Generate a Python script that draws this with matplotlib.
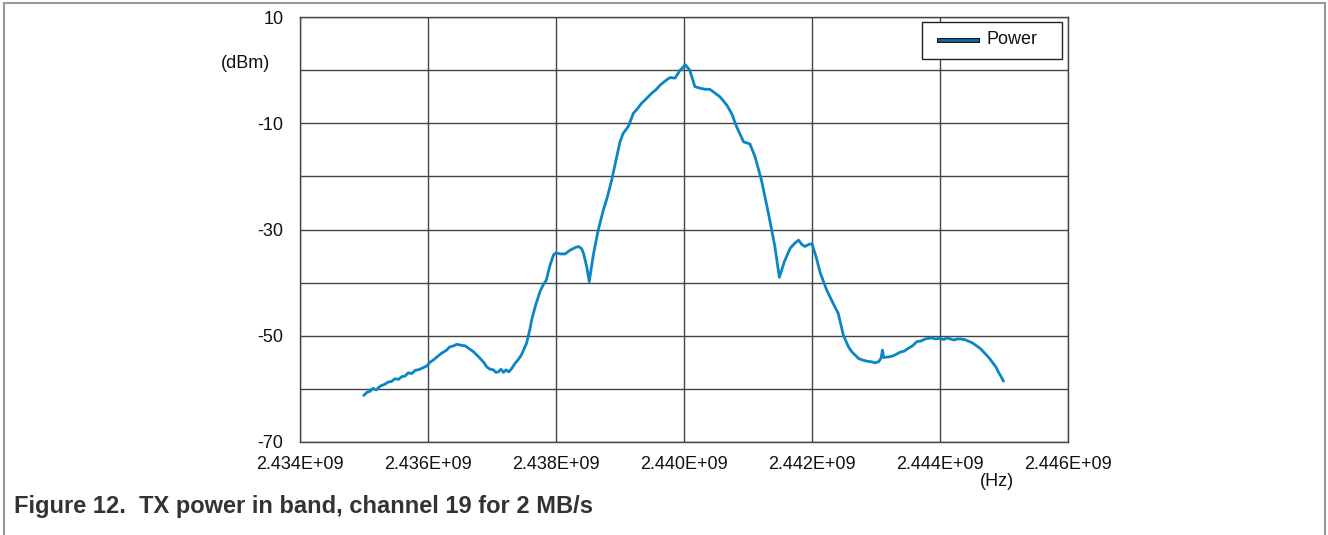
import matplotlib
matplotlib.use("Agg")
import matplotlib.pyplot as plt
from matplotlib.lines import Line2D
from matplotlib.patches import Rectangle
import numpy as np

plt.rcParams['font.family'] = ['Liberation Sans', 'DejaVu Sans']

# Spectrum trace: offset from 2.434 GHz (MHz) and measured power (dBm)
offset_mhz = [
    1.00, 1.05, 1.09, 1.14, 1.19, 1.25, 1.29, 1.33, 1.38, 1.43, 1.48, 1.54,
    1.59, 1.64, 1.69, 1.75, 1.80, 1.85, 1.91, 1.98, 2.03, 2.08, 2.15, 2.21,
    2.28, 2.34, 2.40, 2.45, 2.52, 2.58, 2.64, 2.71, 2.76, 2.81, 2.87, 2.92,
    2.97, 3.02, 3.06, 3.10, 3.14, 3.18, 3.22, 3.26, 3.30, 3.36, 3.41, 3.46,
    3.50, 3.54, 3.59, 3.62, 3.68, 3.75, 3.80, 3.85, 3.90, 3.96, 4.00, 4.07,
    4.14, 4.22, 4.30, 4.35, 4.40, 4.43, 4.48, 4.52, 4.58, 4.66, 4.74, 4.80,
    4.87, 4.95, 5.00, 5.05, 5.13, 5.21, 5.27, 5.34, 5.41, 5.49, 5.56, 5.63,
    5.70, 5.78, 5.86, 5.94, 6.02, 6.09, 6.17, 6.25, 6.33, 6.40, 6.46, 6.56,
    6.67, 6.75, 6.82, 6.93, 7.03, 7.11, 7.21, 7.32, 7.42, 7.49, 7.57, 7.66,
    7.73, 7.79, 7.84, 7.89, 7.95, 8.00, 8.06, 8.13, 8.23, 8.33, 8.41, 8.49,
    8.57, 8.62, 8.67, 8.73, 8.80, 8.86, 8.93, 8.98, 9.04, 9.08, 9.10, 9.12,
    9.18, 9.24, 9.30, 9.375, 9.44, 9.50, 9.57, 9.64, 9.70, 9.77, 9.82, 9.87,
    9.93, 10.00, 10.06, 10.11, 10.16, 10.22, 10.27, 10.31, 10.38, 10.44,
    10.50, 10.57, 10.63, 10.70, 10.77, 10.83, 10.88, 10.91, 10.95, 10.99,
]
power_dbm = [
    -61.2, -60.6, -60.5, -59.9, -60.2, -59.5, -59.3, -59.1, -58.7, -58.6,
    -58.1, -58.2, -57.7, -57.6, -57.0, -57.1, -56.5, -56.4, -56.1, -55.7,
    -55.0, -54.6, -53.9, -53.3, -52.8, -52.1, -51.9, -51.6, -51.8, -51.9,
    -52.4, -53.0, -53.6, -54.2, -55.0, -55.9, -56.3, -56.4, -56.9, -56.8,
    -56.3, -56.9, -56.4, -56.8, -56.3, -55.2, -54.5, -53.6, -52.5, -51.4,
    -48.9, -47.0, -44.3, -41.7, -40.4, -39.5, -37.0, -34.8, -34.4, -34.6,
    -34.6, -33.9, -33.4, -33.2, -33.6, -34.5, -37.0, -39.8, -35.0, -30.1,
    -26.3, -24.0, -20.7, -16.3, -13.5, -11.9, -10.6, -8.1, -7.3, -6.2,
    -5.4, -4.4, -3.7, -2.8, -2.1, -1.4, -1.5, 0.0, 1.0, 0.0, -3.1, -3.4,
    -3.6, -3.6, -4.1, -5.0, -6.6, -8.3, -10.6, -13.5, -13.9, -16.3, -20.7,
    -27.0, -33.2, -39.0, -36.0, -33.5, -32.6, -32.0, -32.8, -33.2, -32.8,
    -32.7, -35.0, -38.2, -41.4, -43.9, -45.8, -49.9, -52.1, -53.0, -53.6,
    -54.3, -54.6, -54.8, -54.9, -55.1, -54.9, -54.2, -52.7, -54.1, -54.0,
    -53.9, -53.6, -53.1, -52.9, -52.4, -51.9, -51.1, -51.0, -50.6, -50.5,
    -50.4, -50.6, -50.5, -50.7, -50.4, -50.6, -50.8, -50.6, -50.6, -50.7,
    -51.0, -51.3, -51.9, -52.4, -53.3, -54.2, -55.2, -56.0, -56.8, -57.6,
    -58.5,
]

base_hz = 2.434e9
freq_hz = base_hz + np.array(offset_mhz) * 1e6

x_ticks = [2.434e9, 2.436e9, 2.438e9, 2.440e9, 2.442e9, 2.444e9, 2.446e9]
x_tick_labels = ["2.434E+09", "2.436E+09", "2.438E+09", "2.440E+09",
                 "2.442E+09", "2.444E+09", "2.446E+09"]
y_ticks = [10, 0, -10, -20, -30, -40, -50, -60, -70]
y_tick_labels = ["10", "", "-10", "", "-30", "", "-50", "", "-70"]

W, H = 1328, 535
fig = plt.figure(figsize=(W / 100, H / 100), dpi=100)
ax = fig.add_axes([300 / W, 1 - 442 / H, 768 / W, 425 / H])

line_color = "#0a85c6"
ax.plot(freq_hz, power_dbm, color=line_color, lw=2.0, solid_joinstyle="round",
        zorder=3)

ax.set_xlim(2.434e9, 2.446e9)
ax.set_ylim(-70, 10)
ax.set_xticks(x_ticks)
ax.set_xticklabels(x_tick_labels)
ax.set_yticks(y_ticks)
ax.set_yticklabels(y_tick_labels)
ax.tick_params(axis="both", length=0, labelsize=13, colors="#111111")
ax.tick_params(axis="x", pad=10)
ax.tick_params(axis="y", pad=12)
ax.grid(True, color="#444444", lw=1.0)
ax.set_axisbelow(True)
for s in ax.spines.values():
    s.set_color("#444444")
    s.set_linewidth(1.0)

# Unit labels
fig.text(245 / W, 1 - 63 / H, "(dBm)", ha="center", va="center", fontsize=13,
         color="#111111")
fig.text(997 / W, 1 - 481 / H, "(Hz)", ha="center", va="center", fontsize=13,
         color="#111111")

# Legend box
ax.add_patch(Rectangle((922 / W, 1 - 59 / H), 140 / W, 37 / H,
                       transform=fig.transFigure, facecolor="white",
                       edgecolor="#222222", lw=1.0, zorder=5, clip_on=False))
fig.add_artist(Line2D([939 / W, 977 / W], [1 - 40 / H, 1 - 40 / H],
                      color="#1a1a1a", lw=3.6, zorder=6))
fig.add_artist(Line2D([939 / W, 977 / W], [1 - 40 / H, 1 - 40 / H],
                      color="#0a6aa8", lw=2.0, zorder=7))
fig.text(986 / W, 1 - 40 / H, "Power", ha="left", va="center", fontsize=13,
         color="#111111", zorder=8)

# Outer frame
fig.add_artist(Line2D([4 / W, 4 / W], [0, 1 - 2.5 / H], color="#999999", lw=1.5))
fig.add_artist(Line2D([1325 / W, 1325 / W], [0, 1 - 2.5 / H], color="#999999", lw=1.5))
fig.add_artist(Line2D([4 / W, 1325 / W], [1 - 2.5 / H, 1 - 2.5 / H], color="#999999", lw=1.5))

# Caption
fig.text(14 / W, 1 - 506 / H, "Figure 12.  TX power in band, channel 19 for 2 MB/s",
         ha="left", va="center", fontsize=17, fontweight="bold", color="#333333")

fig.savefig("out.png", dpi=100)
